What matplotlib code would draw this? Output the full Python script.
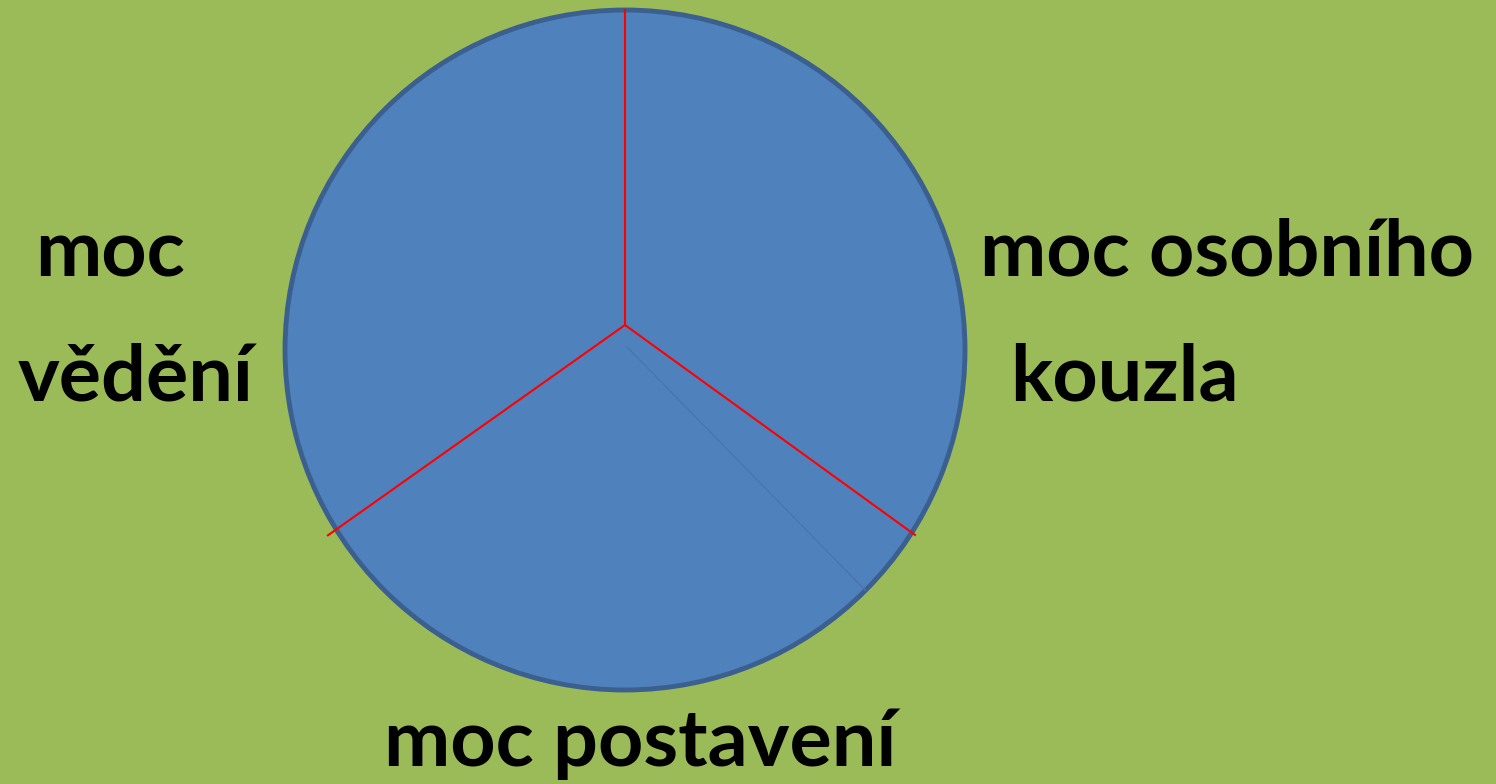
import numpy as np
import matplotlib.pyplot as plt

# data: three equal parts of the circle and the labels
parts = [1, 1, 1]
labels = ["moc", "vědění", "moc osobního", "kouzla", "moc postavení"]
label_x = [35, 18, 980, 1010, 384]
label_y = [276, 400, 275, 400, 766]

# dividing lines (red) from the hub, angle in degrees, length in px
hub = (625, 325)
spoke_angles = [90, -35.9, 215.3]
spoke_lengths = [315, 358, 364]

bg = "#9bbb59"
fill = "#4f81bd"
edge = "#3b5f8f"

fig = plt.figure(figsize=(14.96, 7.84), dpi=100, facecolor=bg)
ax = fig.add_axes([0, 0, 1, 1])
ax.set_facecolor(bg)

# the circle itself, drawn as a pie with same-coloured parts
ax.pie(parts, colors=[fill] * 3, center=(625, 350), radius=340,
       startangle=90, frame=True,
       wedgeprops=dict(linewidth=1.2, edgecolor=fill))
ax.set_xlim(0, 1496)
ax.set_ylim(784, 0)
ax.set_aspect("equal")
ax.axis("off")

# outline
circ = plt.Circle((625, 350), 340, fill=False, edgecolor=edge, linewidth=3.5)
ax.add_patch(circ)

# faint line
ax.plot([627, 865], [347, 590], color="#4877b0", linewidth=1)

for a, L in zip(spoke_angles, spoke_lengths):
    r = np.radians(a)
    ax.plot([hub[0], hub[0] + L * np.cos(r)], [hub[1], hub[1] - L * np.sin(r)],
            color="#ff0000", linewidth=1.5)

for s, x, y in zip(labels, label_x, label_y):
    ax.text(x, y, s, fontsize=57, fontweight="bold", family="Lato",
            ha="left", va="baseline", color="black")

fig.savefig("out.png", dpi=100, facecolor=bg)
